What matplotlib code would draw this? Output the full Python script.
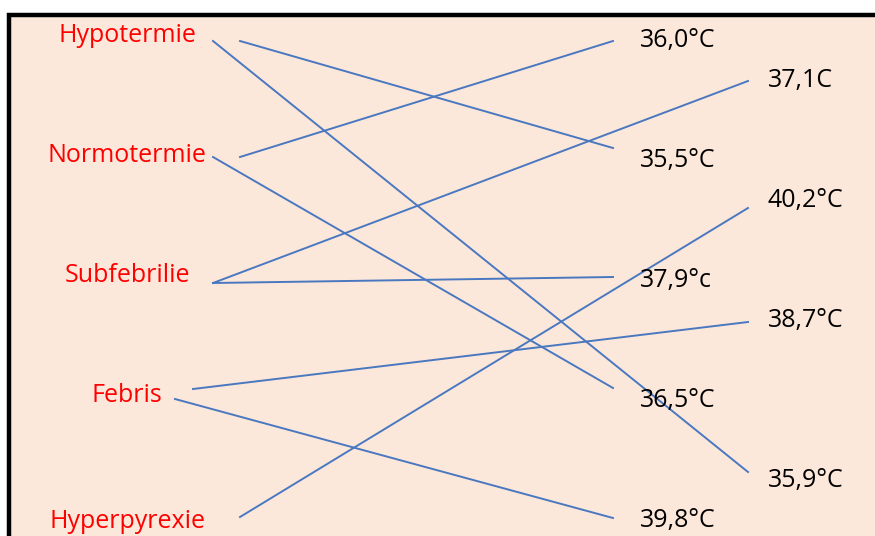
import matplotlib
matplotlib.use("Agg")
import matplotlib.pyplot as plt
from matplotlib.patches import Rectangle

# data: categories, temperatures and which temperature belongs to which category
states = ["Hypotermie", "Normotermie", "Subfebrilie", "Febris", "Hyperpyrexie"]
temps = ["36,0°C", "35,5°C", "37,9°c", "36,5°C", "39,8°C",
         "37,1C", "40,2°C", "38,7°C", "35,9°C"]
links = [(0, 1), (0, 8), (1, 0), (1, 3), (2, 5), (2, 2), (3, 7), (3, 4), (4, 6)]

# layout (pixel space of the 875x536 picture)
W, H = 875, 536
state_y = [36, 156, 276, 396, 522]
temp_x = [640, 640, 640, 640, 640, 768, 768, 768, 768]
temp_y = [41, 161, 280, 400, 521, 81, 200, 321, 480]
link_x0 = [240, 213, 240, 213, 213, 213, 193, 175, 240]
link_y0 = [41, 41, 157, 157, 283, 283, 389, 399, 517]
link_y1 = [148, 472, 41, 388, 81, 277, 322, 518, 208]

plt.rcParams["font.family"] = ["Open Sans", "DejaVu Sans"]
fig = plt.figure(figsize=(W / 100, H / 100), dpi=100)
ax = fig.add_axes([0, 0, 1, 1])
ax.set_xlim(0, W); ax.set_ylim(H, 0); ax.axis("off")

ax.add_patch(Rectangle((9, 15), W + 20, H + 20, facecolor="#FCE8DA",
                       edgecolor="black", lw=3.2))

for name, y in zip(states, state_y):
    ax.text(127, y, name, color="red", fontsize=18, ha="center", va="center")
for t, x, y in zip(temps, temp_x, temp_y):
    ax.text(x, y, t, color="black", fontsize=18, ha="left", va="center")

for (s, t), x0, y0, y1 in zip(links, link_x0, link_y0, link_y1):
    x1 = temp_x[t] - (27 if temp_x[t] < 700 else 20)
    ax.plot([x0, x1], [y0, y1], color="#4A78C0", lw=1.4)

fig.savefig("out.png", dpi=100)
